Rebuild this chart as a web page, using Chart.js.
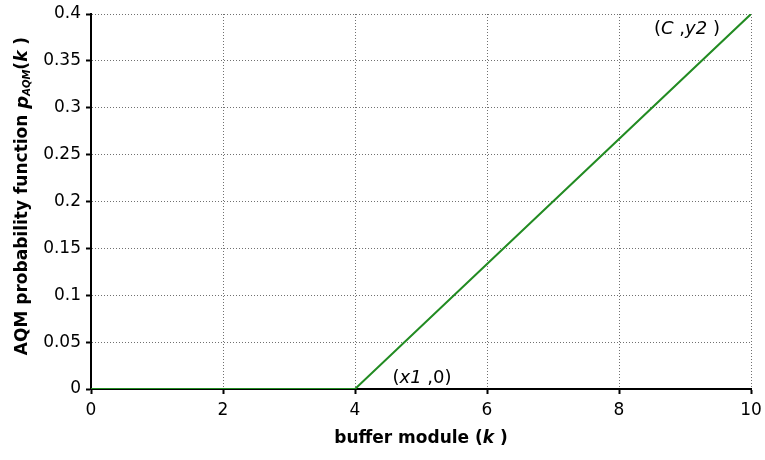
<!DOCTYPE html>
<html><head><meta charset="utf-8">
<script src="https://cdn.jsdelivr.net/npm/chart.js@4/dist/chart.umd.min.js"></script>
<style>html,body{margin:0;padding:0;background:#fff}#wrap{width:765px;height:460px}</style>
</head><body><div id="wrap"><canvas id="c" width="765" height="460"></canvas></div>
<script>
const xValues = [0, 4, 10];
const yValues = [0, 0, 0.4];
const xTicks = [0, 2, 4, 6, 8, 10];
const yTicks = [0, 0.05, 0.1, 0.15, 0.2, 0.25, 0.3, 0.35, 0.4];
const annotations = [
  {x: 4, y: 0, parts: [["(",""],["x1","italic "],[" ,",""],["0",""],[")",""]], dx: 67, dy: -11},
  {x: 10, y: 0.4, parts: [["(",""],["C","italic "],[" ,",""],["y2","italic "],[" )",""]], dx: -64, dy: 15}
];
const FONT = '"DejaVu Sans", Verdana, sans-serif';

function drawParts(ctx, parts, x, y, size, base, align) {
  let total = 0;
  parts.forEach(p => { ctx.font = (p[1]||'') + base + size + 'px ' + FONT; total += ctx.measureText(p[0]).width; });
  let cx = align === 'center' ? x - total/2 : x;
  parts.forEach(p => {
    ctx.font = (p[1]||'') + base + size + 'px ' + FONT;
    ctx.fillText(p[0], cx, y);
    cx += ctx.measureText(p[0]).width;
  });
}

const titlePlugin = {
  id: 'titles',
  afterDraw(chart) {
    const ctx = chart.ctx, a = chart.chartArea;
    const xs = chart.scales.x, ys = chart.scales.y;
    ctx.save();
    ctx.fillStyle = '#000';
    ctx.textBaseline = 'middle';
    ctx.textAlign = 'left';
    annotations.forEach(an => {
      drawParts(ctx, an.parts, xs.getPixelForValue(an.x) + an.dx, ys.getPixelForValue(an.y) + an.dy, 18, '', 'center');
    });
    drawParts(ctx, [["buffer module (",""],["k","italic "],[" )",""]], (a.left + a.right)/2, 439, 17, 'bold ', 'center');
    ctx.save();
    ctx.translate(23, 196);
    ctx.rotate(-Math.PI/2);
    const segs = [
      {t: "AQM probability function ", f: 'bold 17px ', dy: 0},
      {t: "p", f: 'italic bold 18px ', dy: 0},
      {t: "AQM", f: 'italic bold 10px ', dy: 4},
      {t: "(", f: 'bold 17px ', dy: 0},
      {t: "k", f: 'italic bold 17px ', dy: 0},
      {t: " )", f: 'bold 17px ', dy: 0}
    ];
    let tot = 0;
    segs.forEach(s => { ctx.font = s.f + FONT; tot += ctx.measureText(s.t).width; });
    let cx = -tot/2;
    segs.forEach(s => { ctx.font = s.f + FONT; ctx.fillText(s.t, cx, s.dy); cx += ctx.measureText(s.t).width; });
    ctx.restore();
    ctx.restore();
  }
};

const gridOpts = {color: '#707070', lineWidth: 1, drawTicks: true, tickLength: 5, tickColor: '#000', tickBorderDash: [], tickWidth: 2};
const borderOpts = {display: true, color: '#000', width: 2, dash: [1, 2]};

new Chart(document.getElementById('c'), {
  type: 'line',
  data: {
    datasets: [{
      data: xValues.map((x, i) => ({x: x, y: yValues[i]})),
      borderColor: '#228b22',
      borderWidth: 2,
      pointRadius: 0,
      tension: 0,
      fill: false
    }]
  },
  options: {
    responsive: false,
    animation: false,
    devicePixelRatio: 1,
    layout: {padding: {top: 14, right: 14, left: 0, bottom: 0}},
    plugins: {legend: {display: false}, tooltip: {enabled: false}},
    scales: {
      x: {
        type: 'linear', min: 0, max: 10,
        afterBuildTicks: s => { s.ticks = xTicks.map(v => ({value: v})); },
        afterFit: s => { s.height = 71; s.paddingLeft = 0; s.paddingRight = 0; },
        ticks: {color: '#000', font: {family: FONT, size: 17}, padding: 6, maxRotation: 0},
        grid: gridOpts,
        border: borderOpts
      },
      y: {
        type: 'linear', min: 0, max: 0.4,
        afterBuildTicks: s => { s.ticks = yTicks.map(v => ({value: v})); },
        afterFit: s => { s.width = 91; s.paddingTop = 0; s.paddingBottom = 0; },
        ticks: {color: '#000', font: {family: FONT, size: 17}, padding: 5, callback: v => String(v)},
        grid: gridOpts,
        border: borderOpts
      }
    }
  },
  plugins: [titlePlugin]
});
</script></body></html>
